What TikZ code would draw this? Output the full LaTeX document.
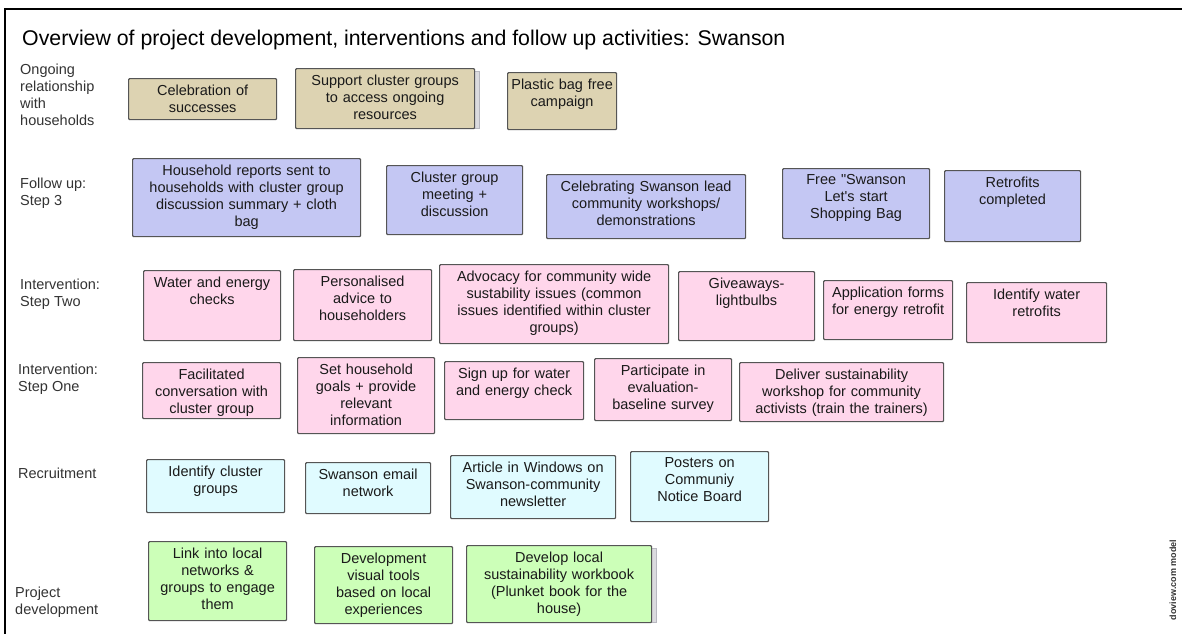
\documentclass[tikz,border=0pt]{standalone}
\usepackage{fontspec}
\setmainfont{Liberation Sans}[Ligatures=TeXOff]
\definecolor{boxline}{HTML}{555555}
\definecolor{txt}{HTML}{1A1A1A}
\definecolor{lbl}{HTML}{333333}
\definecolor{tan}{HTML}{DDD3B2}
\definecolor{lav}{HTML}{C4C7F3}
\definecolor{pinkish}{HTML}{FFD6EB}
\definecolor{icy}{HTML}{E0FBFF}
\definecolor{mint}{HTML}{CCFFB8}
\definecolor{shade}{HTML}{B8B8C0}

% one coloured activity box: name, fill style, x1, y1, x2, y2, text
\newcommand\drawbox[7]{%
  \pgfmathsetmacro\bw{#5-#3}%
  \pgfmathsetmacro\bh{#6-#4}%
  \pgfmathsetmacro\tw{#5-#3-6}%
  \node[box,#2,minimum width=\bw pt,minimum height=\bh pt,anchor=north west] (#1) at (#3,#4) {};
  \node[boxtext,text width=\tw pt] (#1-t) at ([yshift=-6.5pt]#1.north) {#7};
}
% a second sheet peeking out behind a box
\newcommand\drawstack[5]{%
  \pgfmathsetmacro\bw{#4-#2}%
  \pgfmathsetmacro\bh{#5-#3-3}%
  \node[stackbox,minimum width=\bw pt,minimum height=\bh pt,anchor=north west] (#1) at (#2+5,#3+3) {};
}

\begin{document}
\begin{tikzpicture}[x=1pt,y=-1pt,
  box/.style={draw=boxline,line width=1.2pt,rounded corners=1pt,inner sep=0pt},
  stackbox/.style={draw=shade,fill=shade!50,line width=1pt,inner sep=0pt},
  boxtext/.style={anchor=north,align=center,inner sep=0pt,text=txt,
    font=\fontsize{14.5}{17}\selectfont},
  rowlabel/.style={anchor=north west,align=left,inner sep=0pt,text=lbl,
    font=\fontsize{14.5}{17}\selectfont},
  tanbox/.style={fill=tan},
  lavbox/.style={fill=lav},
  pinkbox/.style={fill=pinkish},
  icybox/.style={fill=icy},
  mintbox/.style={fill=mint}]
\useasboundingbox (0,0) rectangle (1182,633);
\fill[white] (0,0) rectangle (1182,633);

% frame
\draw[line width=2pt,line cap=rect] (5,633) -- (5,9) -- (1182,9);

% title
\node[anchor=west,inner sep=0pt,font=\fontsize{21.3}{25}\selectfont] (title) at (22,40)
  {Overview of project development, interventions and follow up activities: Swanson};

% row labels
\node[rowlabel] (l-ongoing) at (20,64) {Ongoing\\relationship\\with\\households};
\node[rowlabel] (l-follow) at (20,178) {Follow up:\\Step 3};
\node[rowlabel] (l-two) at (20,279) {Intervention:\\Step Two};
\node[rowlabel] (l-one) at (18,364) {Intervention:\\Step One};
\node[rowlabel] (l-recruit) at (18,468) {Recruitment};
\node[rowlabel] (l-dev) at (15,587) {Project\\development};

% ongoing relationship
\drawbox{o1}{tanbox}{128}{78}{276}{119}{Celebration of\\successes}
\drawstack{o2s}{295}{68}{474}{128}
\drawbox{o2}{tanbox}{295}{68}{474}{128}{Support cluster groups\\to access ongoing\\resources}
\drawbox{o3}{tanbox}{507}{72}{616}{129}{Plastic bag free\\campaign}

% follow up
\drawbox{f1}{lavbox}{132}{158}{360}{236}{Household reports sent to\\households with cluster group\\discussion summary + cloth\\bag}
\drawbox{f2}{lavbox}{386}{165}{522}{234}{Cluster group\\meeting +\\discussion}
\drawbox{f3}{lavbox}{546}{174}{745}{238}{Celebrating Swanson lead\\community workshops/\\demonstrations}
\drawbox{f4}{lavbox}{782}{168}{929}{238}{Free "Swanson\\Let's start\\Shopping Bag}
\drawbox{f5}{lavbox}{944}{170}{1080}{241}{Retrofits\\completed}

% intervention step two
\drawbox{t1}{pinkbox}{143}{270}{280}{340}{Water and energy\\checks}
\drawbox{t2}{pinkbox}{293}{269}{431}{340}{Personalised\\advice to\\householders}
\drawbox{t3}{pinkbox}{439}{264}{668}{343}{Advocacy for community wide\\sustability issues (common\\issues identified within cluster\\groups)}
\drawbox{t4}{pinkbox}{678}{271}{814}{340}{Giveaways-\\lightbulbs}
\drawbox{t5}{pinkbox}{823}{280}{952}{339}{Application forms\\for energy retrofit}
\drawbox{t6}{pinkbox}{966}{282}{1106}{342}{Identify water\\retrofits}

% intervention step one
\drawbox{s1}{pinkbox}{142}{362}{280}{418}{Facilitated\\conversation with\\cluster group}
\drawbox{s2}{pinkbox}{297}{357}{434}{433}{Set household\\goals + provide\\relevant\\information}
\drawbox{s3}{pinkbox}{444}{361}{583}{419}{Sign up for water\\and energy check}
\drawbox{s4}{pinkbox}{594}{358}{731}{420}{Participate in\\evaluation-\\baseline survey}
\drawbox{s5}{pinkbox}{739}{362}{943}{421}{Deliver sustainability\\workshop for community\\activists (train the trainers)}

% recruitment
\drawbox{r1}{icybox}{146}{459}{284}{512}{Identify cluster\\groups}
\drawbox{r2}{icybox}{305}{462}{430}{513}{Swanson email\\network}
\drawbox{r3}{icybox}{450}{455}{615}{518}{Article in Windows on\\Swanson-community\\newsletter}
\drawbox{r4}{icybox}{630}{451}{768}{521}{Posters on\\Communiy\\Notice Board}

% project development
\drawbox{d1}{mintbox}{148}{541}{286}{620}{Link into local\\networks \&\\groups to engage\\them}
\drawbox{d2}{mintbox}{314}{546}{452}{623}{Development\\visual tools\\based on local\\experiences}
\drawstack{d3s}{466}{545}{651}{622}
\drawbox{d3}{mintbox}{466}{545}{651}{622}{Develop local\\sustainability workbook\\(Plunket book for the\\house)}

% watermark
\node[rotate=90,inner sep=0pt,text=lbl,font=\fontsize{9}{10}\selectfont\bfseries] (mark) at (1173,580) {doview.com model};
\end{tikzpicture}
\end{document}
